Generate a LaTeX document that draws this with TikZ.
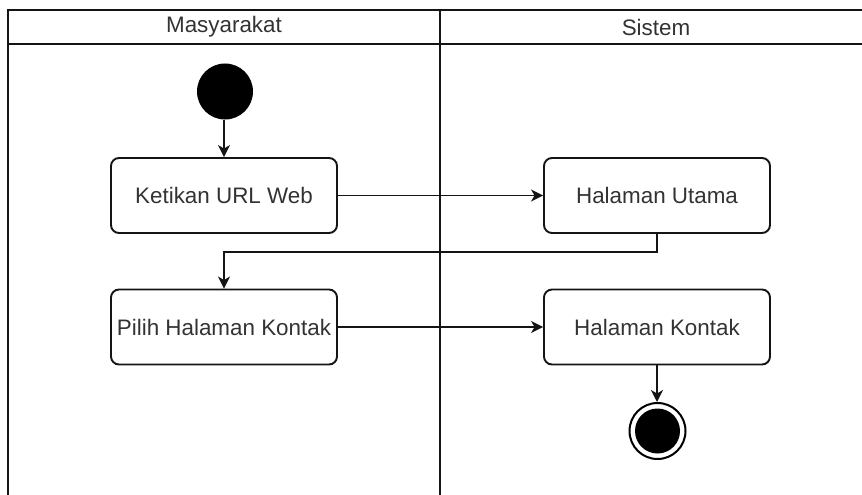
\documentclass[tikz,border=0pt]{standalone}
\usepackage{fontspec}
\setmainfont{Liberation Sans}
\usetikzlibrary{arrows.meta}
\definecolor{txt}{RGB}{51,51,51}
\definecolor{ln}{RGB}{20,20,20}
\tikzset{
  actbox/.style={draw=ln, line width=1.9pt, rounded corners=8pt, minimum width=226pt, minimum height=75pt, inner sep=0pt, text=txt, font=\fontsize{22.4}{26}\selectfont, fill=white},
  lanetext/.style={text=txt, font=\fontsize{22.4}{26}\selectfont, inner sep=0pt},
  lane/.style={draw=ln, line width=1.6pt},
  flow/.style={draw=ln, line width=1.9pt, -{Stealth[length=12pt,width=12pt,inset=3.5pt]}},
  startdot/.style={circle, fill=black, minimum size=56pt, inner sep=0pt},
  endring/.style={circle, draw=black, line width=2pt, fill=white, minimum size=56pt, inner sep=0pt},
  enddot/.style={circle, fill=black, minimum size=45pt, inner sep=0pt}
}
\begin{document}
\begin{tikzpicture}[x=1pt,y=-1pt]
\useasboundingbox (0,0) rectangle (862,495);
\fill[white] (0,0) rectangle (862,495);
% swimlanes
\coordinate (tl) at (8,10);
\coordinate (tr) at (862,10);
\coordinate (hl) at (8,44);
\coordinate (hr) at (862,44);
\coordinate (bl) at (8,495);
\coordinate (dt) at (440,10);
\coordinate (db) at (440,495);
\draw[lane] (tr) -- (tl) -- (bl);
\draw[lane] (hl) -- (hr);
\draw[lane] (dt) -- (db);
\node[lanetext] (h1) at (224,27) {Masyarakat};
\node[lanetext] (h2) at (656,27) {Sistem};
% nodes
\node[startdot] (start) at (225,91.5) {};
\node[actbox] (b1) at (224,195.5) {Ketikan URL Web};
\node[actbox] (b2) at (657,195.5) {Halaman Utama};
\node[actbox] (b3) at (224,327) {Pilih Halaman Kontak};
\node[actbox] (b4) at (657,327) {Halaman Kontak};
\node[endring] (endo) at (657.5,431) {};
\node[enddot] (endi) at (657.5,431) {};
\coordinate (e1) at (657,252);
\coordinate (e2) at (224,252);
% connectors
\draw[flow] (start.south -| b1.north) -- (b1.north);
\draw[flow] (b1.east) -- (b2.west);
\draw[flow] (b2.south) -- (e1) -- (e2) -- (b3.north);
\draw[flow] (b3.east) -- (b4.west);
\draw[flow] (b4.south) -- (b4.south |- endo.north);
\end{tikzpicture}
\end{document}
